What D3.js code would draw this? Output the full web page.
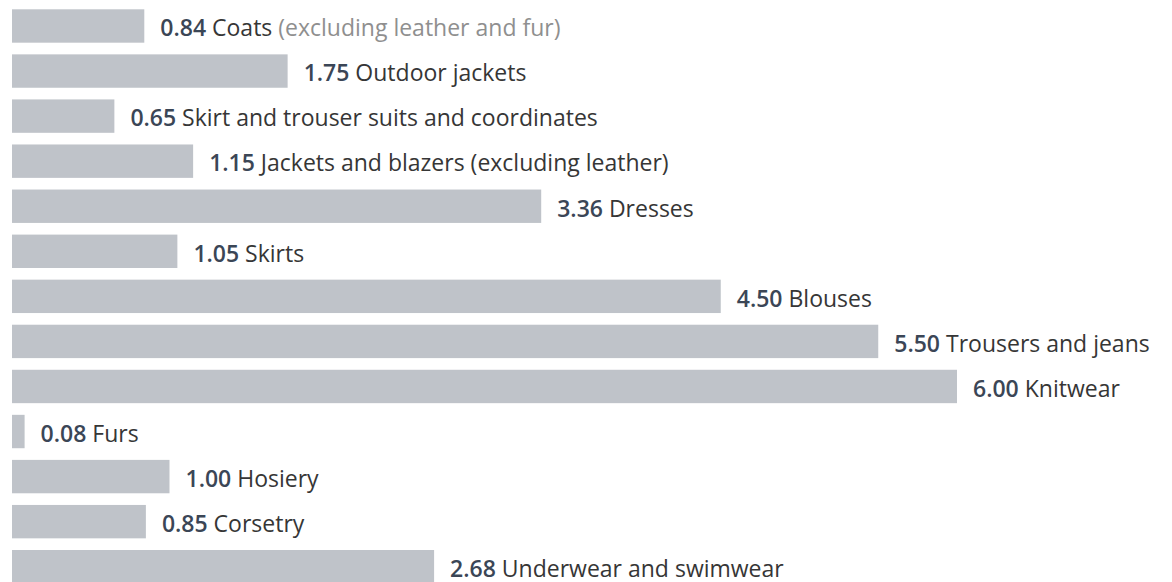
<!DOCTYPE html>
<html>
<head>
<meta charset="utf-8">
<script src="https://cdn.jsdelivr.net/npm/d3@7"></script>
<style>
  body { margin: 0; background: #fff; }
  svg { display: block; }
  .val { font-weight: 600; fill: #3b4656; }
  .lbl { fill: #363636; }
  .note { fill: #8f8f8f; }
</style>
</head>
<body>
<div id="chart"></div>
<script>
// womenswear product groups, values as printed next to the bars
const categories = [
  "Coats", "Outdoor jackets", "Skirt and trouser suits and coordinates",
  "Jackets and blazers (excluding leather)", "Dresses", "Skirts", "Blouses",
  "Trousers and jeans", "Knitwear", "Furs", "Hosiery", "Corsetry",
  "Underwear and swimwear"
];
const values = [0.84, 1.75, 0.65, 1.15, 3.36, 1.05, 4.50, 5.50, 6.00, 0.08, 1.00, 0.85, 2.68];
// lighter grey suffix, only the first row has one
const notes = [" (excluding leather and fur)", "", "", "", "", "", "", "", "", "", "", "", ""];

const width = 1172, height = 582;

const svg = d3.select("#chart").append("svg")
  .attr("width", width)
  .attr("height", height);

const x = d3.scaleLinear()
  .domain([0, 6])
  .range([12, 957]);

const y = d3.scaleBand()
  .domain(categories)
  .range([9.3, 583.4])
  .paddingInner(0.259)
  .paddingOuter(0);

const rows = svg.selectAll(".row")
  .data(categories.map((c, i) => ({name: c, value: values[i], note: notes[i]})))
  .enter().append("g")
  .attr("class", "row");

rows.append("rect")
  .attr("x", x(0))
  .attr("y", d => y(d.name))
  .attr("width", d => x(d.value) - x(0))
  .attr("height", y.bandwidth())
  .attr("fill", "#bfc3c9");

const txt = rows.append("text")
  .attr("x", d => x(d.value) + 16)
  .attr("y", d => y(d.name) + 27)
  .style("font-family", "'Open Sans', 'Noto Sans', sans-serif")
  .style("font-size", "23px");

txt.append("tspan").attr("class", "val").text(d => d.value.toFixed(2));
txt.append("tspan").attr("class", "lbl").text(d => " " + d.name);
txt.append("tspan").attr("class", "note").text(d => d.note);
</script>
</body>
</html>
